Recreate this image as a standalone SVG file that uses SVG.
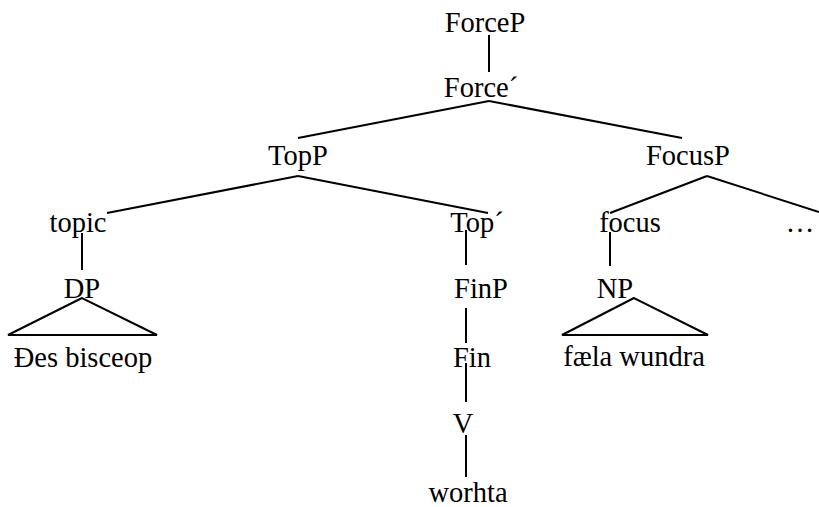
<svg xmlns="http://www.w3.org/2000/svg" width="819" height="507" viewBox="0 0 819 507">
<style>
text{font-family:"Liberation Serif","Times New Roman",serif;font-size:28.5px;fill:#000;text-anchor:middle}
.e{stroke:#000;stroke-width:2;fill:none}
</style>
<rect width="819" height="507" fill="#fff"/>
<g id="connectors">
<line class="e" x1="489" y1="35" x2="489" y2="72"/>
<line class="e" x1="489" y1="101" x2="298" y2="138"/>
<line class="e" x1="489" y1="101" x2="682" y2="138"/>
<line class="e" x1="298" y1="176" x2="107" y2="213"/>
<line class="e" x1="298" y1="176" x2="488" y2="213"/>
<line class="e" x1="707" y1="176" x2="610" y2="213"/>
<line class="e" x1="707" y1="176" x2="819" y2="212"/>
<line class="e" x1="82" y1="233" x2="82" y2="270"/>
<line class="e" x1="466" y1="230" x2="466" y2="265"/>
<line class="e" x1="466" y1="308" x2="466" y2="343"/>
<line class="e" x1="466" y1="363" x2="466" y2="402"/>
<line class="e" x1="466" y1="435" x2="466" y2="477"/>
<line class="e" x1="610" y1="232" x2="610" y2="266"/>
<polygon class="e" points="82,298 8,335 157,335"/>
<polygon class="e" points="634,298 562,335 708,335"/>
</g>
<g id="ForceP"><text x="485" y="32">ForceP</text></g>
<g id="Force1"><text x="481" y="97">Force´</text></g>
<g id="TopP"><text x="298" y="165">TopP</text></g>
<g id="FocusP"><text x="688" y="165">FocusP</text></g>
<g id="topic"><text x="78" y="232">topic</text></g>
<g id="Top1"><text x="477" y="232">Top´</text></g>
<g id="focus"><text x="630" y="232">focus</text></g>
<g id="dots"><text x="800" y="232">…</text></g>
<g id="DP"><text x="82" y="298">DP</text></g>
<g id="FinP"><text x="481" y="298">FinP</text></g>
<g id="NP"><text x="615" y="298">NP</text></g>
<g id="DesBisceop"><text x="83" y="367">Ðes bisceop</text></g>
<g id="Fin"><text x="472" y="367">Fin</text></g>
<g id="faelaWundra"><text x="634" y="366">fæla wundra</text></g>
<g id="V"><text x="463" y="433">V</text></g>
<g id="worhta"><text x="468" y="502">worhta</text></g>
</svg>
